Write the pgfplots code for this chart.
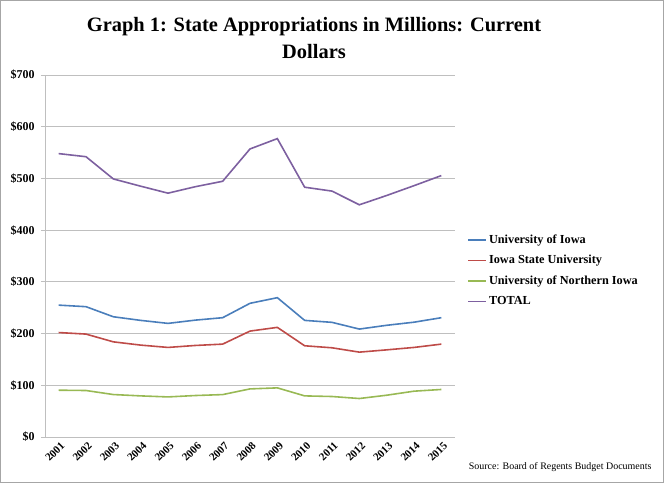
\documentclass[border=0pt]{standalone}
\usepackage{pgfplots}
\pgfplotsset{compat=1.18}
\usepackage{fontspec}
\setmainfont{Liberation Serif}
\definecolor{cUI}{HTML}{4A7EBB}
\definecolor{cISU}{HTML}{BE4B48}
\definecolor{cUNI}{HTML}{98B954}
\definecolor{cTOT}{HTML}{7D60A0}
\definecolor{gridc}{HTML}{BFBFBF}
\begin{document}
\begin{tikzpicture}
\useasboundingbox (0,0) rectangle (664bp,483bp);
\draw[gray!70, line width=0.8pt] (0.5bp,0.5bp) rectangle (663.5bp,482.5bp);
\node[align=center, font=\bfseries\fontsize{20.5}{27}\selectfont] at (314bp,445bp)
  {Graph 1: State Appropriations in Millions: Current\\Dollars};
\node[anchor=east, font=\fontsize{10}{12}\selectfont] at (655bp,16bp)
  {Source: Board of Regents Budget Documents};
\begin{axis}[
  at={(45bp,46bp)}, anchor=south west,
  scale only axis, width=410bp, height=362bp,
  xmin=-0.5, xmax=14.5, ymin=0, ymax=700,
  axis lines=left, axis line style={-, gridc, line width=0.8pt},
  ytick={0,100,...,700},
  yticklabels={\$0,\$100,\$200,\$300,\$400,\$500,\$600,\$700},
  ymajorgrids, grid style={gridc, line width=0.8pt},
  xtick={0,...,14},
  xticklabels={2001,2002,2003,2004,2005,2006,2007,2008,2009,2010,2011,2012,2013,2014,2015},
  minor xtick={-0.5,0.5,...,14.5},
  tick align=outside,
  major tick length=4bp, minor tick length=5bp,
  xtick style={draw=none},
  minor tick style={gridc, line width=0.8pt, draw=gridc},
  ytick style={gridc, line width=0.8pt},
  y tick label style={font=\bfseries\fontsize{12}{14}\selectfont, xshift=-3bp},
  x tick label style={rotate=45, anchor=north east, font=\bfseries\fontsize{11}{13}\selectfont, inner sep=1bp, xshift=2bp},
  legend style={at={(rel axis cs:1.03,0.57)}, anchor=north west, draw=none, fill=none,
    font=\bfseries\fontsize{12.3}{15}\selectfont, row sep=6.5bp, cells={anchor=west},
    inner xsep=0pt},
  legend image code/.code={\draw[#1, line width=1.6pt] (0bp,0bp) -- (18bp,0bp);},
  legend cell align=left,
  every axis plot/.append style={line width=1.6pt, mark=none},
]
\addplot[cUI] coordinates {(0,255) (1,252) (2,232.5) (3,225.5) (4,219.7) (5,226) (6,230.7) (7,258.5) (8,269.4) (9,225.5) (10,221.7) (11,208.7) (12,216) (13,222) (14,230.7)};
\addlegendentry{University of Iowa}
\addplot[cISU] coordinates {(0,202) (1,199) (2,184) (3,177.7) (4,173.2) (5,177) (6,179.6) (7,204.8) (8,212) (9,176.4) (10,172.5) (11,164.1) (12,168.5) (13,173.2) (14,179.6)};
\addlegendentry{Iowa State University}
\addplot[cUNI] coordinates {(0,90.5) (1,89.9) (2,82.1) (3,79.5) (4,77.5) (5,80.2) (6,82) (7,93) (8,95) (9,79.5) (10,78.3) (11,74.4) (12,80.8) (13,88.6) (14,91.9)};
\addlegendentry{University of Northern Iowa}
\addplot[cTOT] coordinates {(0,548) (1,542) (2,499) (3,485) (4,471.5) (5,484) (6,494.5) (7,557) (8,577) (9,483) (10,475.5) (11,449) (12,467) (13,486) (14,505.5)};
\addlegendentry{TOTAL}
\end{axis}
\end{tikzpicture}
\end{document}
